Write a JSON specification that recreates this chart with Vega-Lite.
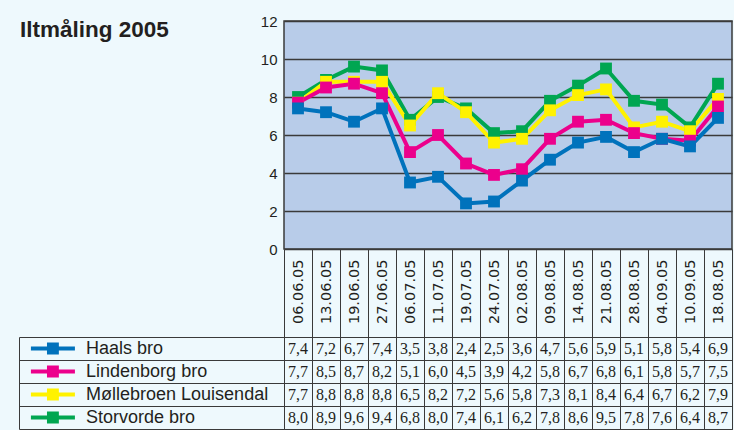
{
  "$schema": "https://vega.github.io/schema/vega-lite/v6.json",
  "background": "#EEF9FD",
  "padding": {"left": 19, "top": 13, "right": 0, "bottom": 0},
  "columns": 2,
  "bounds": "flush",
  "spacing": {"row": 88, "column": 0},
  "datasets": {
    "series": [
      {"s": "Haals bro"},
      {"s": "Lindenborg bro"},
      {"s": "Møllebroen Louisendal"},
      {"s": "Storvorde bro"}
    ],
    "m": [
      {"d": "06.06.05", "s": "Storvorde bro", "v": 8.0},
      {"d": "13.06.05", "s": "Storvorde bro", "v": 8.9},
      {"d": "19.06.05", "s": "Storvorde bro", "v": 9.6},
      {"d": "27.06.05", "s": "Storvorde bro", "v": 9.4},
      {"d": "06.07.05", "s": "Storvorde bro", "v": 6.8},
      {"d": "11.07.05", "s": "Storvorde bro", "v": 8.0},
      {"d": "19.07.05", "s": "Storvorde bro", "v": 7.4},
      {"d": "24.07.05", "s": "Storvorde bro", "v": 6.1},
      {"d": "02.08.05", "s": "Storvorde bro", "v": 6.2},
      {"d": "09.08.05", "s": "Storvorde bro", "v": 7.8},
      {"d": "14.08.05", "s": "Storvorde bro", "v": 8.6},
      {"d": "21.08.05", "s": "Storvorde bro", "v": 9.5},
      {"d": "28.08.05", "s": "Storvorde bro", "v": 7.8},
      {"d": "04.09.05", "s": "Storvorde bro", "v": 7.6},
      {"d": "10.09.05", "s": "Storvorde bro", "v": 6.4},
      {"d": "18.08.05", "s": "Storvorde bro", "v": 8.7},
      {"d": "06.06.05", "s": "Møllebroen Louisendal", "v": 7.7},
      {"d": "13.06.05", "s": "Møllebroen Louisendal", "v": 8.8},
      {"d": "19.06.05", "s": "Møllebroen Louisendal", "v": 8.8},
      {"d": "27.06.05", "s": "Møllebroen Louisendal", "v": 8.8},
      {"d": "06.07.05", "s": "Møllebroen Louisendal", "v": 6.5},
      {"d": "11.07.05", "s": "Møllebroen Louisendal", "v": 8.2},
      {"d": "19.07.05", "s": "Møllebroen Louisendal", "v": 7.2},
      {"d": "24.07.05", "s": "Møllebroen Louisendal", "v": 5.6},
      {"d": "02.08.05", "s": "Møllebroen Louisendal", "v": 5.8},
      {"d": "09.08.05", "s": "Møllebroen Louisendal", "v": 7.3},
      {"d": "14.08.05", "s": "Møllebroen Louisendal", "v": 8.1},
      {"d": "21.08.05", "s": "Møllebroen Louisendal", "v": 8.4},
      {"d": "28.08.05", "s": "Møllebroen Louisendal", "v": 6.4},
      {"d": "04.09.05", "s": "Møllebroen Louisendal", "v": 6.7},
      {"d": "10.09.05", "s": "Møllebroen Louisendal", "v": 6.2},
      {"d": "18.08.05", "s": "Møllebroen Louisendal", "v": 7.9},
      {"d": "06.06.05", "s": "Lindenborg bro", "v": 7.7},
      {"d": "13.06.05", "s": "Lindenborg bro", "v": 8.5},
      {"d": "19.06.05", "s": "Lindenborg bro", "v": 8.7},
      {"d": "27.06.05", "s": "Lindenborg bro", "v": 8.2},
      {"d": "06.07.05", "s": "Lindenborg bro", "v": 5.1},
      {"d": "11.07.05", "s": "Lindenborg bro", "v": 6.0},
      {"d": "19.07.05", "s": "Lindenborg bro", "v": 4.5},
      {"d": "24.07.05", "s": "Lindenborg bro", "v": 3.9},
      {"d": "02.08.05", "s": "Lindenborg bro", "v": 4.2},
      {"d": "09.08.05", "s": "Lindenborg bro", "v": 5.8},
      {"d": "14.08.05", "s": "Lindenborg bro", "v": 6.7},
      {"d": "21.08.05", "s": "Lindenborg bro", "v": 6.8},
      {"d": "28.08.05", "s": "Lindenborg bro", "v": 6.1},
      {"d": "04.09.05", "s": "Lindenborg bro", "v": 5.8},
      {"d": "10.09.05", "s": "Lindenborg bro", "v": 5.7},
      {"d": "18.08.05", "s": "Lindenborg bro", "v": 7.5},
      {"d": "06.06.05", "s": "Haals bro", "v": 7.4},
      {"d": "13.06.05", "s": "Haals bro", "v": 7.2},
      {"d": "19.06.05", "s": "Haals bro", "v": 6.7},
      {"d": "27.06.05", "s": "Haals bro", "v": 7.4},
      {"d": "06.07.05", "s": "Haals bro", "v": 3.5},
      {"d": "11.07.05", "s": "Haals bro", "v": 3.8},
      {"d": "19.07.05", "s": "Haals bro", "v": 2.4},
      {"d": "24.07.05", "s": "Haals bro", "v": 2.5},
      {"d": "02.08.05", "s": "Haals bro", "v": 3.6},
      {"d": "09.08.05", "s": "Haals bro", "v": 4.7},
      {"d": "14.08.05", "s": "Haals bro", "v": 5.6},
      {"d": "21.08.05", "s": "Haals bro", "v": 5.9},
      {"d": "28.08.05", "s": "Haals bro", "v": 5.1},
      {"d": "04.09.05", "s": "Haals bro", "v": 5.8},
      {"d": "10.09.05", "s": "Haals bro", "v": 5.4},
      {"d": "18.08.05", "s": "Haals bro", "v": 6.9}
    ]
  },
  "concat": [
    {
      "width": 265,
      "height": 228,
      "data": {"values": [{"t": "Iltmåling 2005"}]},
      "mark": {"type": "text", "align": "left", "baseline": "alphabetic", "dx": 1, "dy": 16, "font": "Liberation Sans", "fontWeight": "bold", "fontSize": 22.5, "color": "#231F20"},
      "encoding": {
        "x": {"datum": 0, "type": "quantitative", "scale": {"domain": [0, 1]}, "axis": null},
        "y": {"datum": 1, "type": "quantitative", "scale": {"domain": [0, 1]}, "axis": null},
        "text": {"field": "t"}
      }
    },
    {
      "width": 448,
      "height": 228,
      "view": {"stroke": "#3A3A3A", "strokeWidth": 1.5, "fill": "#B8CCE9"},
      "data": {"name": "m"},
      "encoding": {
        "x": {
          "field": "d", "type": "ordinal",
          "sort": ["06.06.05","13.06.05","19.06.05","27.06.05","06.07.05","11.07.05","19.07.05","24.07.05","02.08.05","09.08.05","14.08.05","21.08.05","28.08.05","04.09.05","10.09.05","18.08.05"],
          "scale": {"type": "band", "paddingInner": 0, "paddingOuter": 0},
          "axis": {"title": null, "orient": "bottom", "domain": false, "labelAngle": 270, "labelPadding": -78, "labelFont": "DejaVu Sans", "labelFontSize": 14.5, "labelColor": "#231F20", "labelOverlap": false, "ticks": true, "tickBand": "extent", "tickSize": 88, "tickColor": "#3A3A3A", "tickWidth": 1, "grid": false, "minExtent": 88, "maxExtent": 88}
        },
        "y": {
          "field": "v", "type": "quantitative",
          "scale": {"domain": [0, 12], "nice": false, "zero": true},
          "axis": {"title": null, "values": [0, 2, 4, 6, 8, 10, 12], "domain": false, "ticks": false, "labelPadding": 7, "labelFont": "Liberation Sans", "labelFontSize": 15, "labelColor": "#231F20", "grid": true, "gridColor": "#3A3A3A", "gridWidth": 1.5}
        },
        "color": {
          "field": "s", "type": "nominal",
          "scale": {"domain": ["Haals bro", "Lindenborg bro", "Møllebroen Louisendal", "Storvorde bro"], "range": ["#0072BC", "#EC008C", "#FFF200", "#00A651"]},
          "legend": null
        }
      },
      "layer": [
        {"mark": {"type": "line", "strokeWidth": 4}},
        {"mark": {"type": "point", "shape": "square", "size": 140, "filled": true, "opacity": 1}}
      ]
    },
    {
      "width": 265,
      "height": 92,
      "data": {"name": "series"},
      "encoding": {
        "y": {
          "field": "s", "type": "nominal",
          "sort": ["Haals bro", "Lindenborg bro", "Møllebroen Louisendal", "Storvorde bro"],
          "scale": {"type": "band", "paddingInner": 0, "paddingOuter": 0},
          "axis": {"title": null, "labels": false, "ticks": false, "domain": true, "domainColor": "#3A3A3A", "domainWidth": 1, "grid": true, "tickBand": "extent", "gridColor": "#3A3A3A", "gridWidth": 1}
        }
      },
      "layer": [
        {
          "mark": {"type": "point", "shape": "M-1,-0.09H1V0.09H-1Z M-0.27,-0.27H0.27V0.27H-0.27Z", "size": 1936, "filled": true, "opacity": 1, "strokeWidth": 0},
          "encoding": {
            "x": {"datum": 0.128, "type": "quantitative", "scale": {"domain": [0, 1]}, "axis": null},
            "color": {
              "field": "s", "type": "nominal",
              "scale": {"domain": ["Haals bro", "Lindenborg bro", "Møllebroen Louisendal", "Storvorde bro"], "range": ["#0072BC", "#EC008C", "#FFF200", "#00A651"]},
              "legend": null
            }
          }
        },
        {
          "mark": {"type": "text", "align": "left", "baseline": "middle", "font": "Liberation Sans", "fontSize": 18, "color": "#231F20"},
          "encoding": {
            "x": {"datum": 0.253, "type": "quantitative", "scale": {"domain": [0, 1]}, "axis": null},
            "text": {"field": "s"}
          }
        }
      ]
    },
    {
      "width": 448,
      "height": 92,
      "view": {"stroke": "#3A3A3A", "strokeWidth": 1},
      "data": {"name": "m"},
      "mark": {"type": "text", "align": "center", "baseline": "middle", "font": "Liberation Sans Narrow", "fontSize": 16, "color": "#231F20"},
      "encoding": {
        "x": {
          "field": "d", "type": "ordinal",
          "sort": ["06.06.05","13.06.05","19.06.05","27.06.05","06.07.05","11.07.05","19.07.05","24.07.05","02.08.05","09.08.05","14.08.05","21.08.05","28.08.05","04.09.05","10.09.05","18.08.05"],
          "scale": {"type": "band", "paddingInner": 0, "paddingOuter": 0},
          "axis": {"title": null, "orient": "top", "labels": false, "ticks": false, "domain": false, "grid": true, "tickBand": "extent", "gridColor": "#3A3A3A", "gridWidth": 1}
        },
        "y": {
          "field": "s", "type": "nominal",
          "sort": ["Haals bro", "Lindenborg bro", "Møllebroen Louisendal", "Storvorde bro"],
          "scale": {"type": "band", "paddingInner": 0, "paddingOuter": 0},
          "axis": {"title": null, "labels": false, "domain": false, "ticks": false, "tickBand": "extent", "grid": true, "gridColor": "#3A3A3A", "gridWidth": 1}
        },
        "text": {"field": "v", "type": "quantitative", "format": ".1f"}
      }
    }
  ],
  "config": {
    "view": {"stroke": null},
    "locale": {"number": {"decimal": ",", "thousands": ".", "grouping": [3], "currency": ["", ""]}}
  }
}
